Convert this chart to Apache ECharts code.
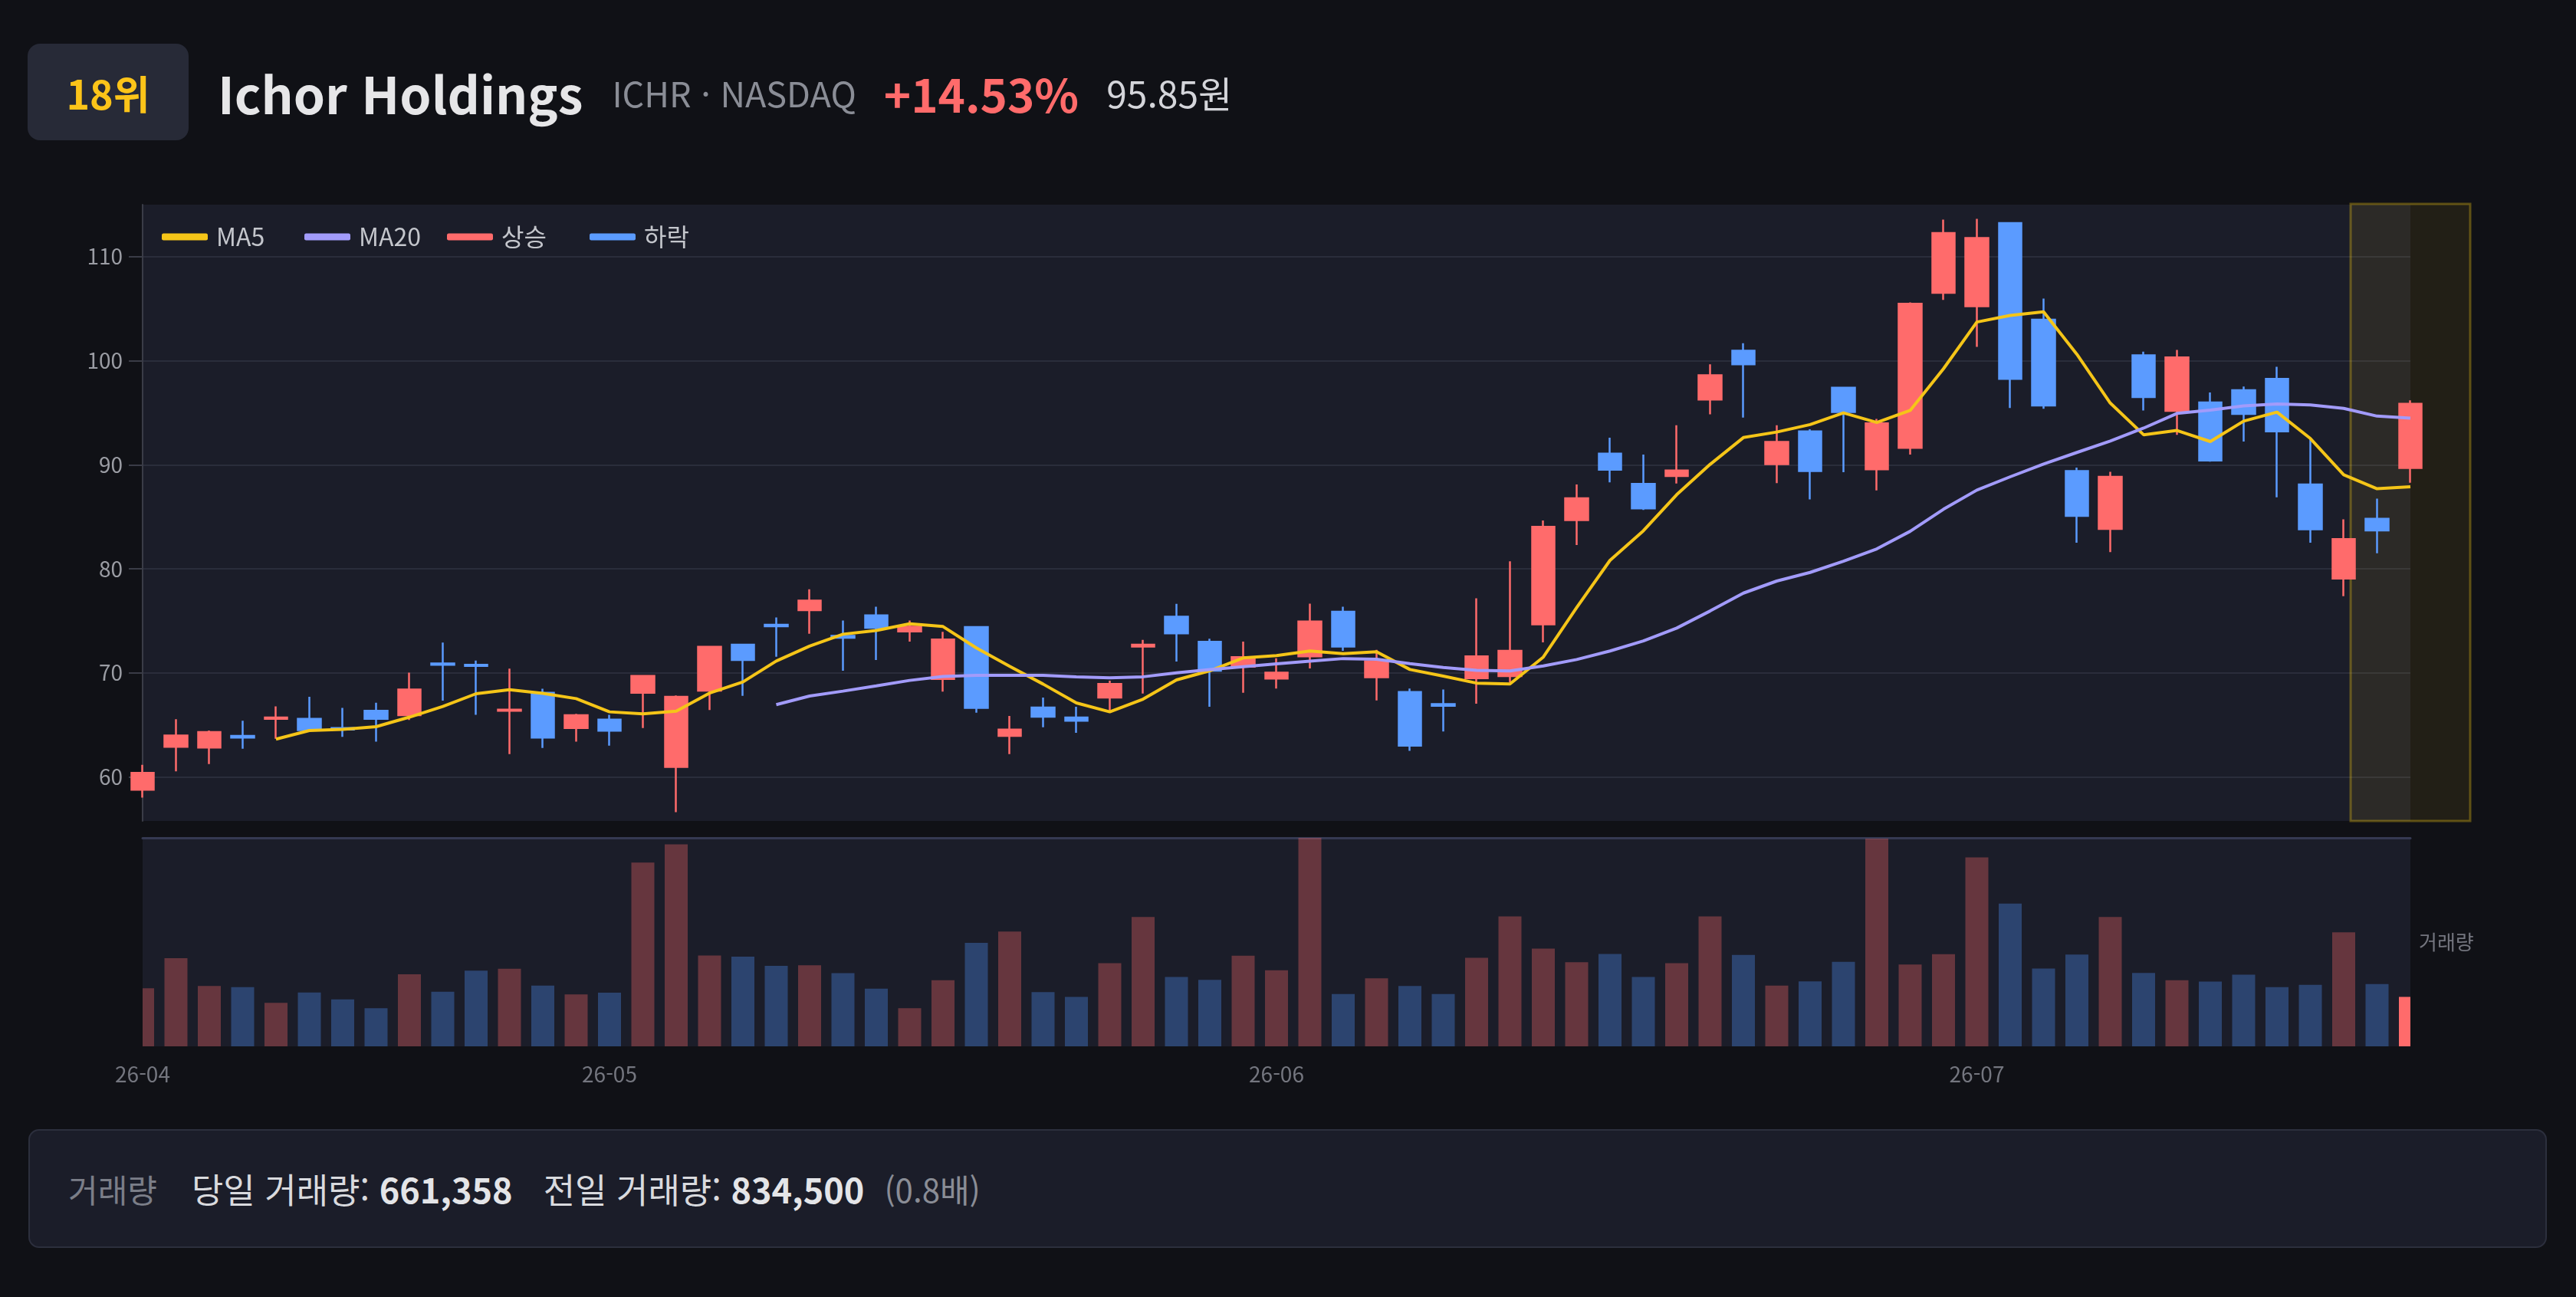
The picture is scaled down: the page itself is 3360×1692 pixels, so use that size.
<!DOCTYPE html>
<html lang="ko">
<head>
<meta charset="utf-8">
<title>Ichor Holdings</title>
<script src="https://cdn.jsdelivr.net/npm/echarts@6/dist/echarts.min.js"></script>
<style>
   html, body {
      margin: 0; padding: 0; width: 3360px; height: 1692px; overflow: hidden;
      background: #101116; font-family: "Noto Sans CJK KR", "Noto Sans", sans-serif;
   }
   #grafica { position: absolute; left: 0; top: 0; width: 3360px; height: 1692px; }
   .encabezado { position: absolute; left: 36px; top: 57px; height: 126px; display: flex; align-items: center; z-index: 2; }
   .insignia {
      width: 210px; height: 126px; border-radius: 16px; background: #272a37; color: #fcc419;
      font-size: 52px; font-weight: 700; display: flex; align-items: center; justify-content: center;
   }
   .nombre { margin-left: 38px; font-size: 66px; font-weight: 700; color: #e6e6e8; }
   .ticker { margin-left: 38px; font-size: 45px; color: #8a8d96; }
   .cambio { margin-left: 36px; font-size: 60px; font-weight: 700; color: #ff6b6b; }
   .precio { margin-left: 36px; font-size: 48px; color: #d4d5da; }
   .pie {
      position: absolute; left: 37px; top: 1473px; width: 3285px; height: 155px; box-sizing: border-box;
      background: #1b1d29; border: 2px solid #2c2f3d; border-radius: 14px; z-index: 2;
      display: flex; align-items: center; padding-left: 50px; font-size: 45px; color: #d9dade;
   }
   .pie .etiqueta { color: #7b7e88; margin-right: 45px; font-size: 42px; }
   .pie b { color: #e4e5e8; font-weight: 700; }
   .pie .bloque { margin-right: 40px; }
   .pie .razon { color: #8a8d96; margin-left: -14px; font-size: 42px; }
</style>
</head>
<body>
<div class="encabezado">
   <div class="insignia">18위</div>
   <div class="nombre">Ichor Holdings</div>
   <div class="ticker">ICHR · NASDAQ</div>
   <div class="cambio">+14.53%</div>
   <div class="precio">95.85원</div>
</div>
<div id="grafica"></div>
<div class="pie">
   <span class="etiqueta">거래량</span>
   <span class="bloque">당일 거래량: <b>661,358</b></span>
   <span class="bloque">전일 거래량: <b>834,500</b></span>
   <span class="razon">(0.8배)</span>
</div>
<script>
// ── Datos ─────────────────────────────────────────────────────────────────
const fechas = [
   "2026-04-13", "2026-04-14", "2026-04-15", "2026-04-16", "2026-04-17", "2026-04-20", "2026-04-21",
   "2026-04-22", "2026-04-23", "2026-04-24", "2026-04-27", "2026-04-28", "2026-04-29", "2026-04-30",
   "2026-05-01", "2026-05-04", "2026-05-05", "2026-05-06", "2026-05-07", "2026-05-08", "2026-05-11",
   "2026-05-12", "2026-05-13", "2026-05-14", "2026-05-15", "2026-05-18", "2026-05-19", "2026-05-20",
   "2026-05-21", "2026-05-22", "2026-05-26", "2026-05-27", "2026-05-28", "2026-05-29",
   "2026-06-01", "2026-06-02", "2026-06-03", "2026-06-04", "2026-06-05", "2026-06-08", "2026-06-09",
   "2026-06-10", "2026-06-11", "2026-06-12", "2026-06-15", "2026-06-16", "2026-06-17", "2026-06-18",
   "2026-06-22", "2026-06-23", "2026-06-24", "2026-06-25", "2026-06-26", "2026-06-29", "2026-06-30",
   "2026-07-01", "2026-07-02", "2026-07-06", "2026-07-07", "2026-07-08", "2026-07-09", "2026-07-10",
   "2026-07-13", "2026-07-14", "2026-07-15", "2026-07-16", "2026-07-17", "2026-07-20", "2026-07-21"
];

const aperturas = [
   58.77, 62.89, 62.81, 63.93, 65.58, 65.58, 64.70, 66.35, 65.93, 70.90, 70.78, 66.35, 68.09, 64.70,
   65.51, 68.09, 60.96, 68.28, 72.71, 74.63, 76.02, 73.55, 75.52, 73.98, 69.40, 74.40, 63.93, 66.66,
   65.70, 67.62, 72.52, 75.40, 72.98, 70.58, 69.45, 71.59, 75.87, 69.57, 68.16, 67.00, 69.49, 69.69,
   74.66, 84.68, 91.06, 88.15, 88.92, 96.27, 100.95, 90.05, 93.20, 97.40, 89.56, 91.62, 106.53, 105.23,
   113.23, 103.94, 89.40, 83.83, 100.51, 95.18, 95.99, 97.16, 98.25, 88.11, 79.06, 84.80, 89.69
];

const cierres = [
   60.39, 63.97, 64.31, 63.77, 65.70, 64.50, 64.55, 65.58, 68.39, 70.78, 70.67, 66.47, 63.77, 65.93,
   64.43, 69.70, 67.70, 72.51, 71.24, 74.48, 76.94, 73.36, 74.32, 74.44, 73.21, 66.62, 64.54, 65.78,
   65.39, 68.93, 72.71, 73.79, 70.20, 71.51, 70.02, 74.94, 72.52, 71.11, 62.99, 66.83, 71.59, 72.12,
   84.03, 86.78, 89.52, 85.81, 89.44, 98.61, 99.66, 92.19, 89.40, 95.06, 93.97, 105.48, 112.26, 111.78,
   98.25, 95.70, 85.08, 88.84, 96.51, 100.31, 90.41, 94.89, 93.20, 83.79, 82.86, 83.69, 95.85
];

const minimos = [
   58.00, 60.54, 61.23, 62.70, 63.66, 64.40, 63.85, 63.39, 65.47, 67.32, 65.97, 62.19, 62.77, 63.39,
   63.00, 64.70, 56.61, 66.43, 67.78, 71.55, 73.75, 70.20, 71.24, 73.00, 68.20, 66.16, 62.19, 64.77,
   64.24, 66.16, 68.01, 71.09, 66.74, 68.08, 68.48, 70.42, 72.12, 67.35, 62.50, 64.36, 67.03, 69.09,
   72.92, 82.29, 88.31, 85.65, 88.19, 94.85, 94.53, 88.23, 86.66, 89.28, 87.54, 90.98, 105.84, 101.32,
   95.46, 95.38, 82.50, 81.61, 95.22, 92.88, 90.29, 92.23, 86.87, 82.50, 77.37, 81.49, 88.27
];

const maximos = [
   61.16, 65.54, 64.45, 65.39, 66.78, 67.70, 66.62, 67.12, 70.01, 72.90, 71.17, 70.40, 68.47, 66.05,
   65.97, 69.78, 67.82, 72.59, 72.78, 75.33, 78.02, 75.02, 76.36, 75.02, 73.94, 74.40, 65.85, 67.62,
   66.74, 69.24, 73.17, 76.63, 73.28, 73.00, 71.39, 76.64, 76.36, 72.20, 68.48, 68.40, 77.16, 80.72,
   84.64, 88.11, 92.59, 90.98, 93.80, 99.66, 101.68, 93.80, 93.40, 97.40, 94.41, 105.60, 113.55, 113.63,
   113.23, 105.96, 89.73, 89.32, 100.87, 101.03, 96.95, 97.52, 99.42, 92.51, 84.76, 86.74, 96.19
];

const volumenes = [
   776000, 1180000, 809000, 792000, 583000, 720000, 628000, 511000, 965000, 731000, 1013000, 1038000,
   812000, 695000, 717000, 2458000, 2704000, 1216000, 1200000, 1077000, 1085000, 979000, 773000, 511000,
   884000, 1384000, 1537000, 725000, 661000, 1113000, 1730000, 929000, 890000, 1214000, 1018000, 2790000,
   700000, 910000, 809000, 700000, 1186000, 1738000, 1309000, 1127000, 1236000, 929000, 1113000, 1738000,
   1222000, 812000, 870000, 1130000, 2780000, 1096000, 1233000, 2528000, 1911000, 1041000, 1228000, 1730000,
   982000, 884000, 868000, 960000, 792000, 823000, 1526000, 834500, 661358
];

const nombresLeyenda = ["MA5", "MA20", "상승", "하락"];

// ── Paleta ────────────────────────────────────────────────────────────────
const colores = {
   sube: "#ff6b6b",
   baja: "#5b9bff",
   subeSuave: "rgba(255,107,107,0.33)",
   bajaSuave: "rgba(79,148,255,0.33)",
   ma5: "#f5c518",
   ma20: "#a29bfa",
   fondoGrid: "#1b1d29",
   lineaGrid: "#2a2d3b",
   eje: "#3a3c47",
   texto: "#9b9da4",
   textoTenue: "#74767f",
   leyenda: "#c4c6cc"
};

const fuente = "Noto Sans CJK KR";
const gridVelas = { left: 186, right: 216, top: 267, height: 804 };
const gridVolumen = { left: 186, right: 216, top: 1093, height: 272 };
const anchoBarra = 30;
const pasoLeyenda = 186;

const fnCalcularMA = (dias) => cierres.map((_, i) => {
   if (i < dias - 1) return "-";
   let suma = 0;
   for (let j = i - dias + 1; j <= i; j++) suma += cierres[j];
   return +(suma / dias).toFixed(2);
});

const datosVelas = fechas.map((_, i) => [aperturas[i], cierres[i], minimos[i], maximos[i]]);

const fnColorVolumen = (i) => {
   const sube = cierres[i] >= aperturas[i];
   if (i === volumenes.length - 1) return sube ? colores.sube : colores.baja;
   return sube ? colores.subeSuave : colores.bajaSuave;
};

// barras de volumen recortadas al área del grid (las de los extremos quedan a la mitad)
const fnDibujarVolumen = (params, api) => {
   const indice = api.value(0);
   const base = api.coord([indice, 0]);
   const tope = api.coord([indice, api.value(1)]);
   const sistema = params.coordSys;
   const rect = echarts.graphic.clipRectByRect(
      { x: tope[0] - anchoBarra / 2, y: tope[1], width: anchoBarra, height: base[1] - tope[1] },
      { x: sistema.x, y: sistema.y, width: sistema.width, height: sistema.height }
   );
   return rect && { type: "rect", shape: rect, style: { fill: fnColorVolumen(indice) } };
};

const esCambioMes = (indice) => indice === 0 || fechas[indice].slice(0, 7) !== fechas[indice - 1].slice(0, 7);

// una leyenda por elemento para que cada uno ocupe el mismo ancho
const leyendas = nombresLeyenda.map((nombre, i) => ({
   left: 206 + i * pasoLeyenda,
   top: 288,
   icon: "roundRect",
   itemWidth: 60,
   itemHeight: 9,
   data: [nombre],
   textStyle: { color: colores.leyenda, fontSize: 32, fontFamily: fuente, padding: [0, 0, 0, 6] }
}));

const grafica = echarts.init(document.getElementById("grafica"));

grafica.setOption({
   backgroundColor: "transparent",
   animation: false,
   textStyle: { fontFamily: fuente },
   legend: leyendas,
   grid: [
      { ...gridVelas, show: true, backgroundColor: colores.fondoGrid, borderWidth: 0 },
      { ...gridVolumen, show: true, backgroundColor: colores.fondoGrid, borderWidth: 0 }
   ],
   xAxis: [
      {
         type: "category", gridIndex: 0, data: fechas, boundaryGap: false,
         axisLine: { show: false }, axisTick: { show: false }, axisLabel: { show: false },
         splitLine: { show: false }
      },
      {
         type: "category", gridIndex: 1, data: fechas, boundaryGap: false,
         axisLine: { show: false }, axisTick: { show: false },
         axisLabel: {
            color: colores.textoTenue, fontSize: 28, margin: 22, fontFamily: fuente,
            interval: (indice) => esCambioMes(indice),
            formatter: (valor) => valor.slice(2, 7)
         },
         splitLine: { show: false }
      },
      {
         type: "category", gridIndex: 1, data: fechas, boundaryGap: false, position: "top",
         axisLine: { show: true, lineStyle: { color: "#353952", width: 3 } },
         axisTick: { show: false }, axisLabel: { show: false }, splitLine: { show: false }
      }
   ],
   yAxis: [
      {
         type: "value", gridIndex: 0, scale: true,
         min: (v) => v.min * 0.985,
         max: (v) => v.max * 1.012,
         axisLine: { show: true, lineStyle: { color: colores.eje, width: 2 } },
         axisTick: { show: true, length: 18, lineStyle: { color: colores.eje, width: 2 } },
         axisLabel: {
            color: colores.texto, fontSize: 28, margin: 26, fontFamily: fuente,
            showMinLabel: false, showMaxLabel: false
         },
         splitLine: { show: true, showMinLine: false, showMaxLine: false, lineStyle: { color: colores.lineaGrid, width: 2 } }
      },
      {
         type: "value", gridIndex: 1, position: "right", min: 0, max: "dataMax",
         axisLine: { show: false }, axisTick: { show: false }, axisLabel: { show: false },
         splitLine: { show: false },
         name: "거래량", nameLocation: "middle", nameRotate: 0, nameGap: 11,
         nameTextStyle: { color: colores.textoTenue, fontSize: 26, align: "left", fontFamily: fuente }
      }
   ],
   series: [
      {
         name: "캔들", type: "candlestick", xAxisIndex: 0, yAxisIndex: 0,
         data: datosVelas, barWidth: anchoBarra, clip: false,
         itemStyle: {
            color: colores.sube, color0: colores.baja,
            borderColor: colores.sube, borderColor0: colores.baja, borderWidth: 2.5
         }
      },
      {
         name: "MA5", type: "line", xAxisIndex: 0, yAxisIndex: 0, data: fnCalcularMA(5),
         showSymbol: false, symbol: "none", smooth: false,
         lineStyle: { color: colores.ma5, width: 4 }, itemStyle: { color: colores.ma5 }
      },
      {
         name: "MA20", type: "line", xAxisIndex: 0, yAxisIndex: 0, data: fnCalcularMA(20),
         showSymbol: false, symbol: "none", smooth: false,
         lineStyle: { color: colores.ma20, width: 4 }, itemStyle: { color: colores.ma20 }
      },
      { name: "상승", type: "line", xAxisIndex: 0, yAxisIndex: 0, data: [], itemStyle: { color: colores.sube }, lineStyle: { color: colores.sube } },
      { name: "하락", type: "line", xAxisIndex: 0, yAxisIndex: 0, data: [], itemStyle: { color: colores.baja }, lineStyle: { color: colores.baja } },
      {
         name: "거래량", type: "custom", xAxisIndex: 1, yAxisIndex: 1,
         data: volumenes.map((v, i) => [i, v]),
         encode: { x: 0, y: 1 },
         renderItem: fnDibujarVolumen
      }
   ]
});

// ── Recuadro del último día (centrado en la última vela) ─────────────────
const xUltimo = grafica.convertToPixel({ xAxisIndex: 0 }, fechas[fechas.length - 1]);
grafica.setOption({
   graphic: [{
      type: "rect", z: 1,
      shape: { x: xUltimo - 78, y: gridVelas.top - 1, width: 156, height: gridVelas.height + 1 },
      style: { fill: "rgba(250,204,21,0.08)", stroke: "rgba(250,204,21,0.32)", lineWidth: 3 }
   }]
});
</script>
</body>
</html>
